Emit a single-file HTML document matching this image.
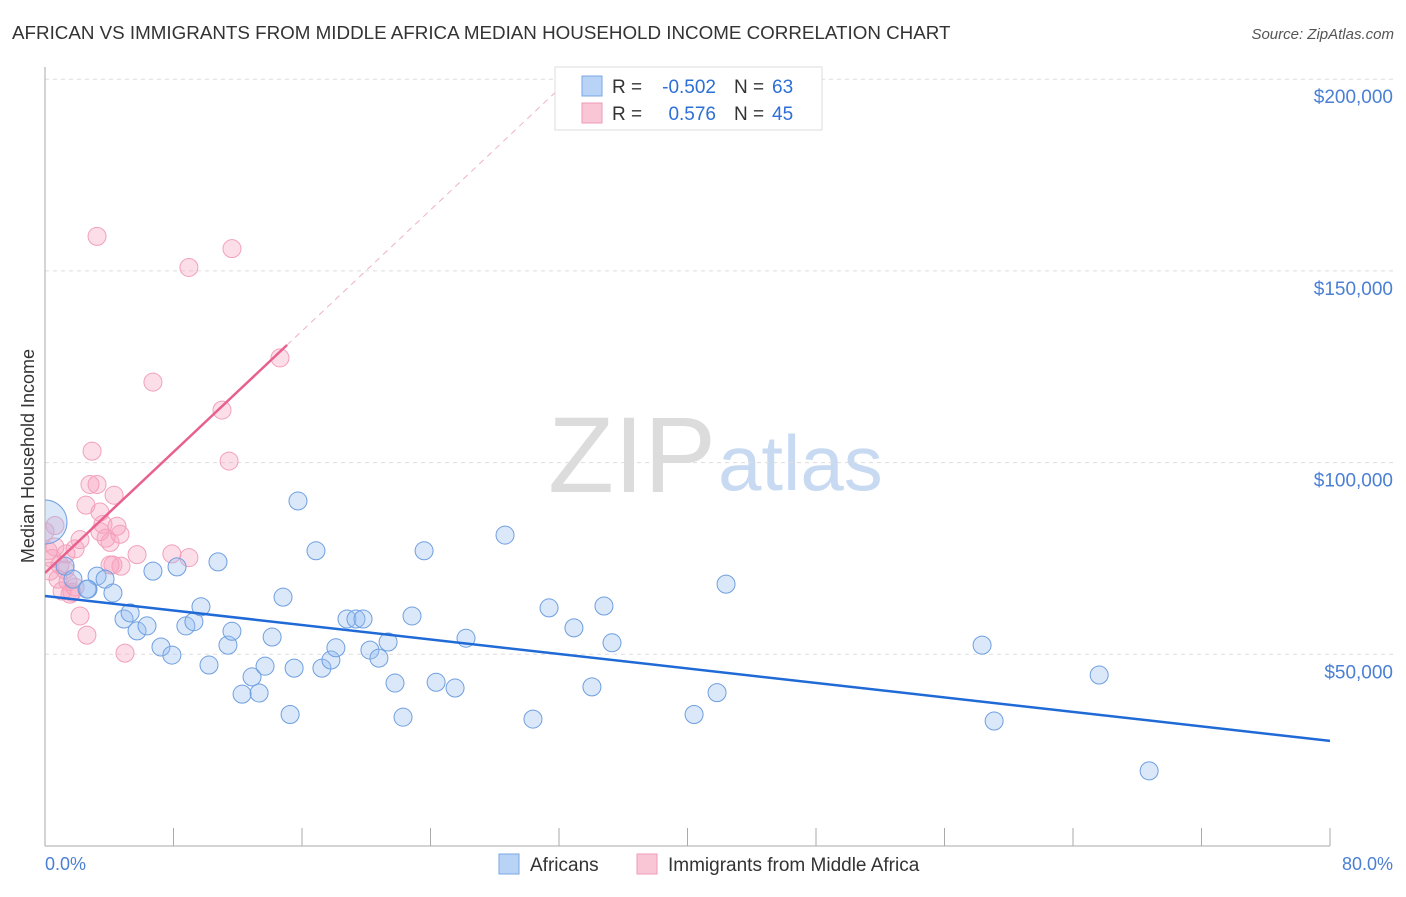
<!DOCTYPE html>
<html><head><meta charset="utf-8"><style>
body{margin:0;background:#fff;font-family:"Liberation Sans",sans-serif}
svg text{font-family:"Liberation Sans",sans-serif}
</style></head><body>
<svg id="c" width="1406" height="892">
<defs><clipPath id="pc"><rect x="45" y="60" width="1360" height="786"/></clipPath></defs>
<text x="12" y="39" font-size="18.8" fill="#333">AFRICAN VS IMMIGRANTS FROM MIDDLE AFRICA MEDIAN HOUSEHOLD INCOME CORRELATION CHART</text>
<text x="1394" y="39" font-size="15" fill="#555" text-anchor="end" font-style="italic">Source: ZipAtlas.com</text>
<text x="716" y="492" font-size="108" fill="#dcdcdc" text-anchor="end" font-family="Liberation Serif">ZIP</text>
<text x="718" y="490" font-size="78" fill="#c8daf2">atlas</text>
<g id="grid"></g><g id="marks" clip-path="url(#pc)"></g>
<text transform="translate(34,456) rotate(-90)" font-size="18" fill="#333" text-anchor="middle">Median Household Income</text>
<text x="45" y="870" font-size="18" fill="#4a7fd4">0.0%</text>
<text x="1393" y="870" font-size="18" fill="#4a7fd4" text-anchor="end">80.0%</text>
<g font-size="19">
<rect x="555" y="67" width="267" height="63" fill="#fff" stroke="#ddd"/>
<rect x="582" y="76" width="20" height="20" fill="#b8d3f5" stroke="#7aa7e3"/>
<rect x="582" y="103" width="20" height="20" fill="#f9c6d6" stroke="#f09ab7"/>
<text x="612" y="93" fill="#333">R =</text><text x="716" y="93" fill="#2c6fd6" text-anchor="end">-0.502</text>
<text x="734" y="93" fill="#333">N =</text><text x="772" y="93" fill="#2c6fd6">63</text>
<text x="612" y="120" fill="#333">R =</text><text x="716" y="120" fill="#2c6fd6" text-anchor="end">0.576</text>
<text x="734" y="120" fill="#333">N =</text><text x="772" y="120" fill="#2c6fd6">45</text>
</g>
<g>
<rect x="499" y="854" width="20" height="20" fill="#b8d3f5" stroke="#7aa7e3"/>
<text x="530" y="871" font-size="19" fill="#333">Africans</text>
<rect x="637" y="854" width="20" height="20" fill="#f9c6d6" stroke="#f09ab7"/>
<text x="668" y="871" font-size="19" fill="#333">Immigrants from Middle Africa</text>
</g>
</svg>
<script>
const yTicks=[50000,100000,150000,200000];
const yTickLabels=["$50,000","$100,000","$150,000","$200,000"];
const xTicks=[0,8,16,24,32,40,48,56,64,72,80];
const bluePts=[[0,84500],[1.25,73000],[1.74,69600],[2.68,67000],[3.24,70400],[3.74,69600],[4.23,66000],[4.92,59200],[5.3,60800],[5.73,56100],[6.35,57400],[6.72,71700],[7.22,51900],[7.9,49800],[8.22,72800],[8.77,57400],[9.27,58500],[9.71,62400],[10.21,47200],[10.77,74100],[11.39,52400],[11.64,56000],[12.27,39600],[12.89,44100],[13.33,39900],[13.7,46900],[14.14,54500],[14.82,64900],[15.26,34300],[15.51,46400],[16.87,77000],[17.24,46400],[17.8,48500],[18.11,51700],[18.8,59200],[19.36,59200],[19.8,59200],[20.23,51100],[20.79,49000],[21.36,53200],[21.79,42500],[22.29,33600],[22.85,60000],[23.6,77000],[24.35,42700],[25.53,41200],[26.21,54200],[28.64,81100],[30.38,33100],[31.38,62100],[32.93,56900],[34.05,41500],[34.8,62600],[35.3,53000],[40.41,34300],[41.84,40000],[42.4,68300],[58.34,52400],[59.09,32600],[65.63,44600],[68.74,19600],[15.75,90000],[2.62,67000]];
const blueR=[22];
const pinkPts=[[0,82000],[0.19,77000],[0.44,75000],[0.62,78000],[0.93,73300],[1.25,72000],[1.43,69000],[1.68,66200],[1.87,67500],[2.18,60000],[2.61,55000],[2.93,103000],[2.8,94300],[3.24,94300],[3.24,159000],[2.55,88900],[3.42,87100],[3.61,83900],[3.8,80300],[4.05,79200],[4.3,91500],[4.48,83400],[4.67,81300],[4.73,73000],[4.05,73300],[4.98,50300],[5.73,76000],[6.72,121000],[7.9,76200],[8.96,150900],[8.96,75200],[11.02,113700],[11.46,100400],[11.64,155800],[14.63,127300],[1.31,76200],[1.87,77500],[2.18,79900],[0.81,69600],[1.56,65700],[1.06,66500],[3.42,82000],[0.62,83600],[4.23,73300],[0.31,71700]];
const blueFit=[65200,-0.4722];
const pinkFit=[71200,3946];
const X=v=>45+v/80*1285, Y=v=>846-v/50000*191.7;
const ns="http://www.w3.org/2000/svg";
function mk(t,a,p){const e=document.createElementNS(ns,t);for(const k in a)e.setAttribute(k,a[k]);p.appendChild(e);return e;}
const g=document.getElementById('grid'), m=document.getElementById('marks');
yTicks.forEach((v,i)=>{
 const l=mk('line',{x1:45,x2:1393,y1:Y(v),y2:Y(v),stroke:'#ddd','stroke-dasharray':'4,4'},g);
 
 
 const t=mk('text',{x:1393,y:Y(v)+24,'font-size':19,fill:'#4a7fd4','text-anchor':'end'},g);
 t.textContent=yTickLabels[i];
 
 
});
const ya=mk('line',{x1:45,x2:45,y1:67,y2:846,stroke:'#aaa'},g);


const xa=mk('line',{x1:45,x2:1330,y1:846,y2:846,stroke:'#aaa'},g);


xTicks.forEach(v=>{const t=mk('line',{x1:X(v),x2:X(v),y1:828,y2:846,stroke:'#aaa'},g);
 
 });
pinkPts.forEach(p=>{const c=mk('circle',{cx:X(p[0]),cy:Y(p[1]),r:9,fill:'rgba(245,160,190,0.35)',stroke:'#f2a0bb','stroke-width':1},m);
 
 });
bluePts.forEach((p,i)=>{const c=mk('circle',{cx:X(p[0]),cy:Y(p[1]),r:i==0?blueR[0]:9,fill:'rgba(150,190,240,0.35)',stroke:'#6f9fe0','stroke-width':1},m);
 
 });
const bl=mk('line',{x1:X(0),y1:Y(blueFit[0]),x2:X(80),y2:Y(blueFit[0]+blueFit[1]*80*1000),stroke:'#1f6ad6','stroke-width':2.5},m);


const pl=mk('line',{x1:X(0),y1:Y(pinkFit[0]),x2:X(15.07),y2:Y(pinkFit[0]+pinkFit[1]*15.07),stroke:'#e8608c','stroke-width':2.5},m);


const pd=mk('line',{x1:X(15.07),y1:Y(pinkFit[0]+pinkFit[1]*15.07),x2:X(32),y2:Y(pinkFit[0]+pinkFit[1]*32),stroke:'#f0b0c4','stroke-width':1,'stroke-dasharray':'6,5'},m);


</script>
</body></html>
